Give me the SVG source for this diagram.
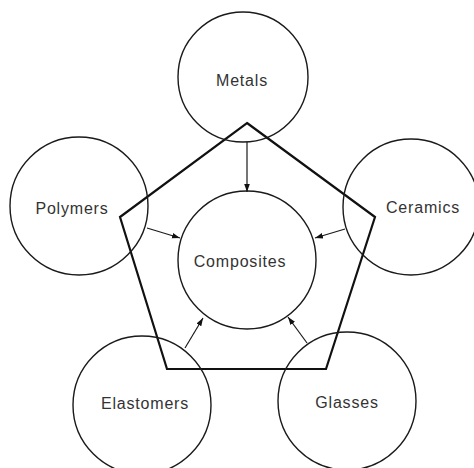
<svg xmlns="http://www.w3.org/2000/svg" width="474" height="468" viewBox="0 0 474 468">
<defs>
<style>
.node circle{fill:none;stroke:#1a1a1a;stroke-width:1.4}
.node text{font-family:"Liberation Sans",Arial,sans-serif;font-size:16px;letter-spacing:0.8px;fill:#333;text-anchor:middle;dominant-baseline:central}
.frame{fill:none;stroke:#111;stroke-width:2.2;stroke-linejoin:miter}
.arrow{stroke:#1a1a1a;stroke-width:1.2;fill:none;marker-end:url(#ah)}
</style>
<marker id="ah" viewBox="0 0 10 10" refX="10" refY="5" markerWidth="8" markerHeight="8" markerUnits="userSpaceOnUse" orient="auto">
<path d="M0,1.5 L10,5 L0,8.5 Z" fill="#111"/>
</marker>
</defs>
<rect width="474" height="468" fill="#fff"/>
<polygon class="frame" points="247,123 375,217 326,369 167,369 120,217"/>
<g id="metals" class="node"><circle cx="243" cy="77" r="65"/><text x="242" y="80">Metals</text></g>
<g id="polymers" class="node"><circle cx="79" cy="206" r="69"/><text x="72" y="208">Polymers</text></g>
<g id="ceramics" class="node"><circle cx="411" cy="207" r="68"/><text x="423" y="207">Ceramics</text></g>
<g id="composites" class="node"><circle cx="247" cy="260" r="69"/><text x="240" y="261">Composites</text></g>
<g id="elastomers" class="node"><circle cx="142" cy="405" r="69"/><text x="145" y="403">Elastomers</text></g>
<g id="glasses" class="node"><circle cx="347" cy="401" r="69"/><text x="347" y="402">Glasses</text></g>
<g id="connectors">
<line class="arrow" x1="247" y1="142" x2="247" y2="192"/>
<line class="arrow" x1="147" y1="228" x2="180" y2="238"/>
<line class="arrow" x1="345" y1="229" x2="315" y2="238"/>
<line class="arrow" x1="185" y1="348" x2="203" y2="318"/>
<line class="arrow" x1="307" y1="343" x2="288" y2="317"/>
</g>
</svg>
